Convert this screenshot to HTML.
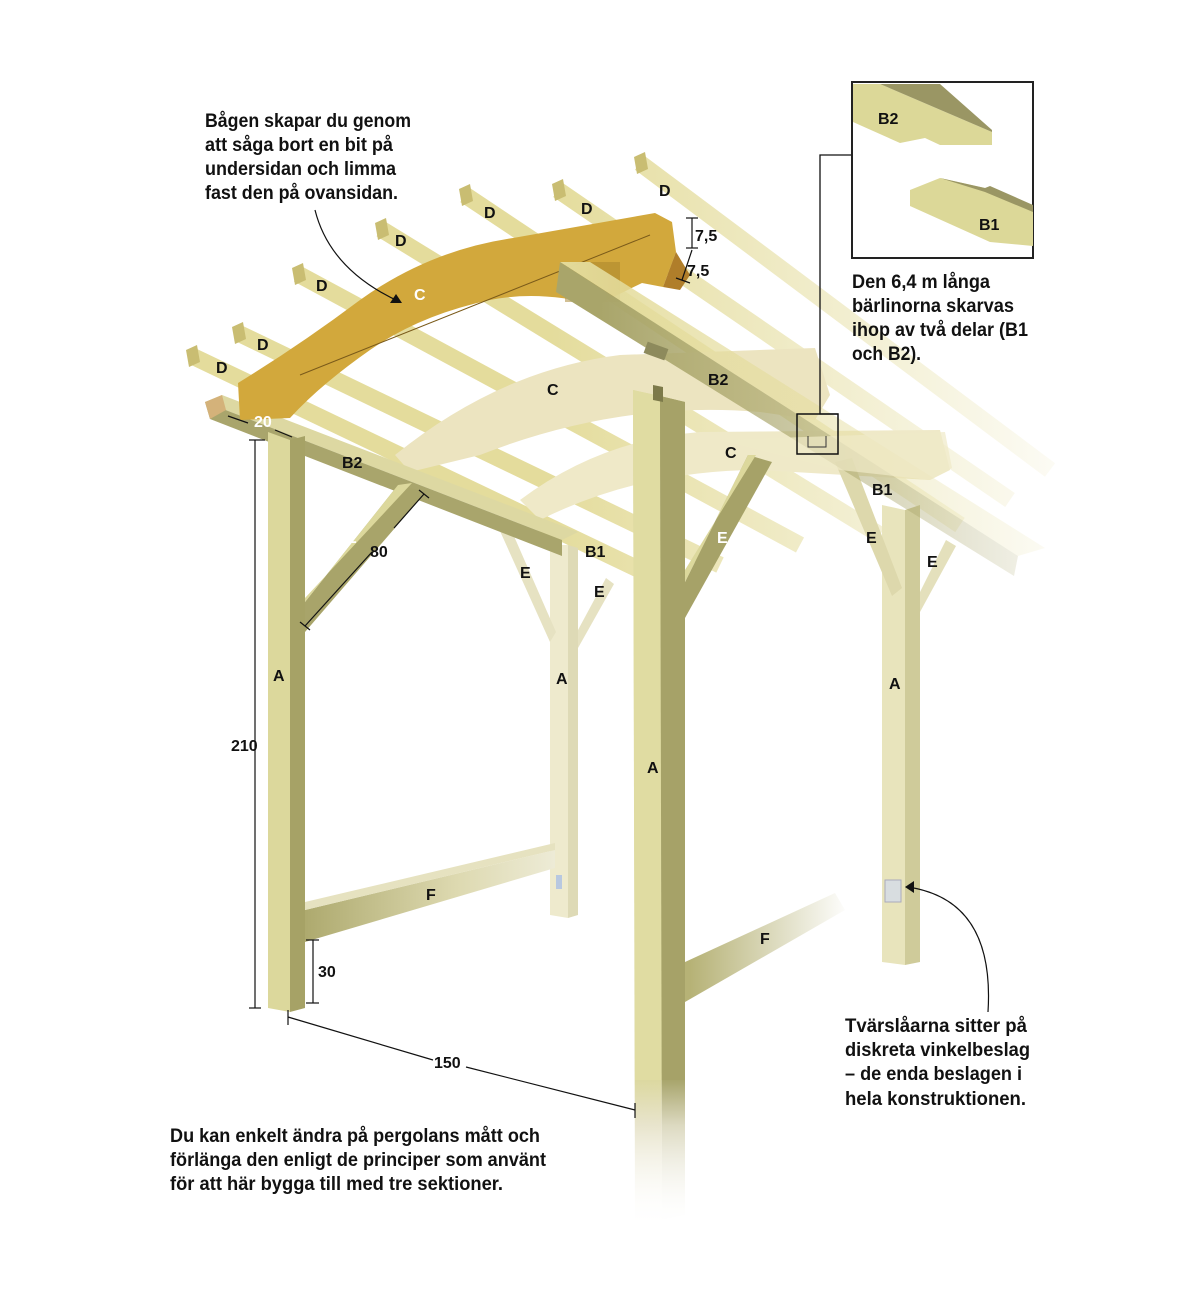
<!DOCTYPE html>
<html><head><meta charset="utf-8">
<style>
html,body{margin:0;padding:0;background:#fff;}
svg{display:block;}
text{font-family:"Liberation Sans Narrow","Liberation Sans",sans-serif;font-weight:bold;}
.t{font-size:19px;fill:#111;}
.l{font-size:16px;fill:#111;}
.w{font-size:16px;fill:#fff;}
</style></head><body>
<svg width="1200" height="1300" viewBox="0 0 1200 1300" xmlns="http://www.w3.org/2000/svg">
<defs>
<linearGradient id="fadeR" gradientUnits="userSpaceOnUse" x1="550" y1="0" x2="1060" y2="0">
<stop offset="0" stop-color="#e4dc9c" stop-opacity="1"/><stop offset="1" stop-color="#e4dc9c" stop-opacity="0.1"/></linearGradient>
<linearGradient id="fadeRd" gradientUnits="userSpaceOnUse" x1="600" y1="0" x2="1060" y2="0">
<stop offset="0" stop-color="#a9a56a" stop-opacity="1"/><stop offset="1" stop-color="#a9a56a" stop-opacity="0.1"/></linearGradient>
<linearGradient id="postM" gradientUnits="userSpaceOnUse" x1="0" y1="1080" x2="0" y2="1230">
<stop offset="0" stop-color="#dcd8a0"/><stop offset="0.3" stop-color="#e8e4cc"/><stop offset="1" stop-color="#fff" stop-opacity="0"/></linearGradient>
<linearGradient id="postMd" gradientUnits="userSpaceOnUse" x1="0" y1="1080" x2="0" y2="1230">
<stop offset="0" stop-color="#a8a56c"/><stop offset="0.3" stop-color="#dcd9c0"/><stop offset="1" stop-color="#fff" stop-opacity="0"/></linearGradient>
<linearGradient id="fF" gradientUnits="userSpaceOnUse" x1="690" y1="0" x2="850" y2="0">
<stop offset="0" stop-color="#b6b276"/><stop offset="1" stop-color="#b6b276" stop-opacity="0"/></linearGradient>
<linearGradient id="fL" gradientUnits="userSpaceOnUse" x1="300" y1="0" x2="560" y2="0">
<stop offset="0" stop-color="#aca86c"/><stop offset="0.6" stop-color="#ddd9b0"/><stop offset="1" stop-color="#eeecd8"/></linearGradient>
</defs>

<!-- rafters D -->
<g stroke="url(#fadeR)" stroke-width="17" stroke-linecap="butt" fill="none">
<line x1="192" y1="356" x2="640" y2="570"/>
<line x1="238" y1="333" x2="720" y2="565"/>
<line x1="298" y1="274" x2="800" y2="545"/>
<line x1="381" y1="229" x2="880" y2="535"/>
<line x1="465" y1="195" x2="960" y2="525"/>
<line x1="558" y1="190" x2="1010" y2="500"/>
<line x1="640" y1="163" x2="1050" y2="470"/>
</g>
<g fill="#c9bd72">
<polygon points="186,350 197,345 200,362 189,367"/>
<polygon points="232,327 243,322 246,339 235,344"/>
<polygon points="292,268 303,263 306,280 295,285"/>
<polygon points="375,223 386,218 389,235 378,240"/>
<polygon points="459,189 470,184 473,201 462,206"/>
<polygon points="552,184 563,179 566,196 555,201"/>
<polygon points="634,157 645,152 648,169 637,174"/>
</g>

<!-- back faded arches C -->
<path d="M520,500 Q600,440 700,432 L940,430 L950,470 L930,480 L760,470 Q640,470 540,520 Z" fill="#efe9c8"/>
<path d="M395,455 Q500,370 620,355 L815,348 L830,395 L815,420 L760,412 Q620,400 480,455 L410,472 Z" fill="#ece4c0"/>

<!-- back left post -->
<polygon points="550,545 568,545 568,918 550,915" fill="#eeeacd"/>
<polygon points="568,545 578,548 578,915 568,918" fill="#dedab6"/>
<polygon points="495,520 506,518 556,632 550,642" fill="#e6e2c2"/>
<polygon points="578,630 606,578 614,584 578,648" fill="#e6e2c2"/>
<rect x="556" y="875" width="6" height="14" fill="#b8c8e0"/>
<!-- back right post -->
<polygon points="882,505 905,510 905,965 882,962" fill="#e8e4bc"/>
<polygon points="905,510 920,505 920,962 905,965" fill="#cfcb9a"/>
<polygon points="835,462 852,458 902,588 892,596" fill="#ddd8ac"/>
<polygon points="920,592 946,540 956,546 920,612" fill="#e4e0bc"/>
<rect x="885" y="880" width="16" height="22" fill="#d8dde0" stroke="#aab" stroke-width="1"/>

<!-- left B2 beam -->
<polygon points="205,402 222,395 578,532 562,540" fill="#ddd8a2"/>
<polygon points="205,402 562,540 562,556 210,419" fill="#a9a56c"/>
<polygon points="205,402 222,395 226,410 210,419" fill="#d4b27a"/>

<!-- front arch C -->
<path d="M238,383 Q300,345 360,300 Q430,250 513,238 L655,213 L672,222 L676,252 L663,287 L642,283 L597,305 Q540,290 490,300 Q420,315 370,350 Q320,385 290,418 L240,420 Z" fill="#d2a83c"/>
<line x1="300" y1="375" x2="650" y2="235" stroke="#7a5a1a" stroke-width="1"/>
<polygon points="663,287 676,252 690,275 680,290" fill="#b07e2a"/>
<rect x="565" y="262" width="55" height="40" fill="#a5822a" opacity="0.5"/>

<!-- right B2/B1 beam -->
<polygon points="560,262 590,262 1045,548 1018,556" fill="url(#fadeR)"/>
<polygon points="560,262 1018,556 1014,576 556,292" fill="url(#fadeRd)"/>
<rect x="645" y="345" width="22" height="12" fill="#8d8a5c" transform="rotate(20 656 351)"/>

<path d="M720,440 L945,432 L952,468 L930,480 L840,470 Z" fill="#efe9c8" opacity="0.7"/>

<!-- left front post A -->
<polygon points="268,432 290,440 290,1012 268,1008" fill="#dcd89c"/>
<polygon points="290,440 305,436 305,1008 290,1012" fill="#a6a266"/>
<!-- E left -->
<polygon points="305,602 398,485 426,492 305,632" fill="#a8a46a"/>
<polygon points="305,602 398,485 412,483 305,598" fill="#dcd89c"/>
<!-- F left -->
<polygon points="305,910 555,850 555,868 305,942" fill="url(#fL)"/>
<polygon points="305,910 555,850 555,843 305,902" fill="#e6e2c0"/>

<!-- middle post A -->
<polygon points="633,390 660,396 662,1220 635,1220" fill="url(#postM)"/>
<polygon points="633,390 660,396 662,1080 635,1080" fill="#e0dca2"/>
<polygon points="660,396 685,402 685,1215 662,1220" fill="url(#postMd)"/>
<polygon points="660,396 685,402 685,1080 662,1080" fill="#a6a268"/>
<polygon points="653,385 663,387 663,402 653,400" fill="#7d7a4a"/>
<!-- E middle -->
<polygon points="685,582 748,455 772,462 685,618" fill="#a6a268"/>
<polygon points="685,582 748,455 756,455 685,570" fill="#dcd89c"/>
<!-- F right -->
<polygon points="685,962 835,893 845,910 685,1002" fill="url(#fF)"/>

<!-- small box on beam -->
<rect x="797" y="414" width="41" height="40" fill="none" stroke="#111" stroke-width="1.5"/>
<path d="M808,436 L808,447 L826,447 L826,436" fill="none" stroke="#333" stroke-width="1"/>
<polyline points="838,414 820,414 820,155 852,155" fill="none" stroke="#111" stroke-width="1.3"/>

<!-- inset -->
<rect x="852" y="82" width="181" height="176" fill="#fff" stroke="#222" stroke-width="2"/>
<polygon points="853,84 880,84 992,132 992,145 940,145 925,138 900,143 853,122" fill="#dcd898"/>
<polygon points="880,84 940,84 992,130 992,132" fill="#9a9664"/>
<polygon points="910,190 940,178 985,188 1033,210 1033,246 990,242 910,206" fill="#dcd898"/>
<polygon points="940,178 985,188 990,186 1033,205 1033,212 985,192" fill="#9a9664"/>

<!-- dimension lines -->
<g stroke="#111" stroke-width="1.2" fill="none">
<line x1="255" y1="440" x2="255" y2="1008"/>
<line x1="249" y1="440" x2="265" y2="440"/><line x1="249" y1="1008" x2="261" y2="1008"/>
<line x1="313" y1="940" x2="313" y2="1003"/>
<line x1="306" y1="940" x2="319" y2="940"/><line x1="306" y1="1003" x2="319" y2="1003"/>
<line x1="288" y1="1017" x2="433" y2="1060"/><line x1="466" y1="1067" x2="635" y2="1110"/>
<line x1="288" y1="1010" x2="288" y2="1025"/><line x1="635" y1="1103" x2="635" y2="1118"/>
<line x1="305" y1="626" x2="372" y2="552"/><line x1="394" y1="528" x2="424" y2="494"/>
<line x1="300" y1="622" x2="310" y2="630"/><line x1="419" y1="490" x2="429" y2="498"/>
<line x1="228" y1="416" x2="248" y2="423"/><line x1="275" y1="430" x2="292" y2="437"/>
<line x1="692" y1="218" x2="692" y2="248"/><line x1="686" y1="218" x2="698" y2="218"/><line x1="686" y1="248" x2="698" y2="248"/>
<line x1="692" y1="250" x2="682" y2="280"/><line x1="676" y1="278" x2="690" y2="283"/>
<path d="M315,210 Q330,270 400,302"/>
<path d="M988,1012 Q995,900 908,887"/>
</g>
<polygon points="402,303 390,303 396,294" fill="#111"/>
<polygon points="905,887 914,881 914,893" fill="#111"/>

<!-- labels -->
<text class="l" x="216" y="373">D</text>
<text class="l" x="257" y="350">D</text>
<text class="l" x="316" y="291">D</text>
<text class="l" x="395" y="246">D</text>
<text class="l" x="484" y="218">D</text>
<text class="l" x="581" y="214">D</text>
<text class="l" x="659" y="196">D</text>
<text class="w" x="414" y="300">C</text>
<text class="l" x="547" y="395">C</text>
<text class="l" x="725" y="458">C</text>
<text class="l" x="708" y="385">B2</text>
<text class="l" x="342" y="468">B2</text>
<text class="l" x="872" y="495">B1</text>
<text class="l" x="585" y="557">B1</text>
<text class="w" x="346" y="543">E</text>
<text class="w" x="717" y="543">E</text>
<text class="l" x="866" y="543">E</text>
<text class="l" x="927" y="567">E</text>
<text class="l" x="520" y="578">E</text>
<text class="l" x="594" y="597">E</text>
<text class="l" x="273" y="681">A</text>
<text class="l" x="556" y="684">A</text>
<text class="l" x="647" y="773">A</text>
<text class="l" x="889" y="689">A</text>
<text class="l" x="426" y="900">F</text>
<text class="l" x="760" y="944">F</text>
<text class="l" x="231" y="751">210</text>
<text class="l" x="318" y="977">30</text>
<text class="l" x="434" y="1068">150</text>
<text class="l" x="370" y="557">80</text>
<text class="w" x="254" y="427">20</text>
<text class="l" x="695" y="241">7,5</text>
<text class="l" x="687" y="276">7,5</text>
<text class="l" x="878" y="124">B2</text>
<text class="l" x="979" y="230">B1</text>

<text class="t" x="205" y="127" textLength="206" lengthAdjust="spacingAndGlyphs">Bågen skapar du genom</text>
<text class="t" x="205" y="151" textLength="188" lengthAdjust="spacingAndGlyphs">att såga bort en bit på</text>
<text class="t" x="205" y="175" textLength="191" lengthAdjust="spacingAndGlyphs">undersidan och limma</text>
<text class="t" x="205" y="199" textLength="193" lengthAdjust="spacingAndGlyphs">fast den på ovansidan.</text>

<text class="t" x="852" y="288" textLength="138" lengthAdjust="spacingAndGlyphs">Den 6,4 m långa</text>
<text class="t" x="852" y="312" textLength="162" lengthAdjust="spacingAndGlyphs">bärlinorna skarvas</text>
<text class="t" x="852" y="336" textLength="176" lengthAdjust="spacingAndGlyphs">ihop av två delar (B1</text>
<text class="t" x="852" y="360" textLength="69" lengthAdjust="spacingAndGlyphs">och B2).</text>

<text class="t" x="845" y="1032" textLength="182" lengthAdjust="spacingAndGlyphs">Tvärslåarna sitter på</text>
<text class="t" x="845" y="1056" textLength="185" lengthAdjust="spacingAndGlyphs">diskreta vinkelbeslag</text>
<text class="t" x="845" y="1080" textLength="177" lengthAdjust="spacingAndGlyphs">– de enda beslagen i</text>
<text class="t" x="845" y="1105" textLength="181" lengthAdjust="spacingAndGlyphs">hela konstruktionen.</text>

<text class="t" x="170" y="1142" textLength="370" lengthAdjust="spacingAndGlyphs">Du kan enkelt ändra på pergolans mått och</text>
<text class="t" x="170" y="1166" textLength="376" lengthAdjust="spacingAndGlyphs">förlänga den enligt de principer som använt</text>
<text class="t" x="170" y="1190" textLength="333" lengthAdjust="spacingAndGlyphs">för att här bygga till med tre sektioner.</text>
</svg>
</body></html>
